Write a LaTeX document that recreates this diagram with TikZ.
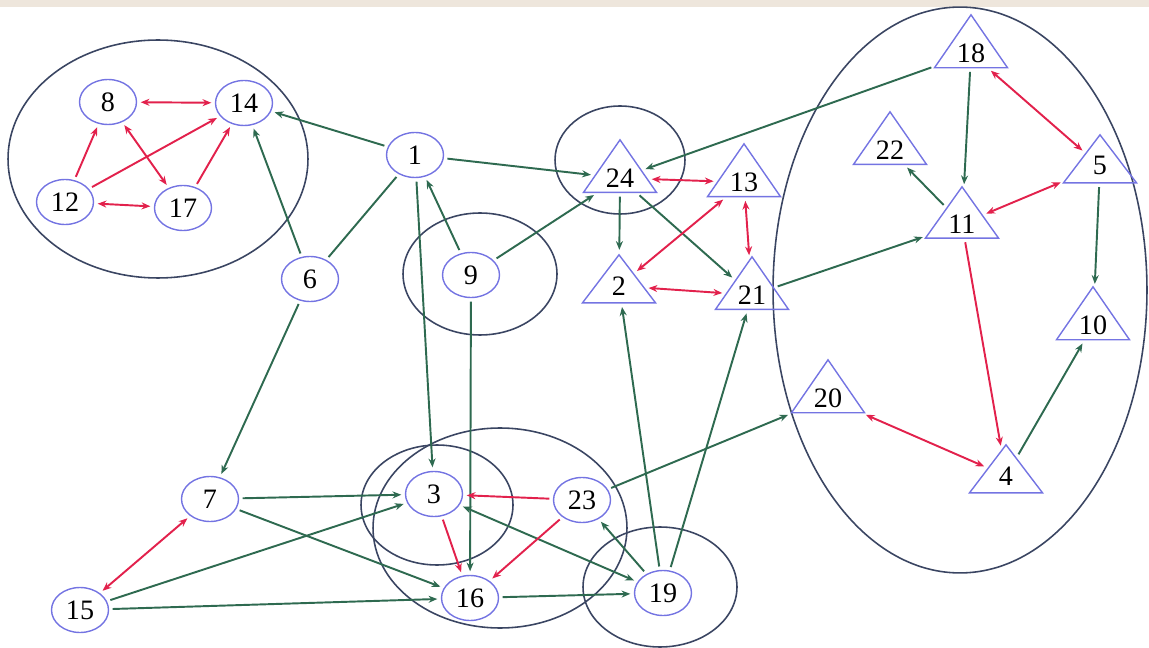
\documentclass[tikz,border=0pt]{standalone}
\usepackage{fontspec}
\setmainfont{Liberation Serif}
\usetikzlibrary{shapes.geometric,arrows.meta}
\definecolor{nblue}{HTML}{7474E2}
\definecolor{egreen}{HTML}{2E6A50}
\definecolor{ered}{HTML}{E2214C}
\definecolor{grpline}{HTML}{3A4562}
\definecolor{beige}{HTML}{EEE6DC}
\tikzset{
  cn/.style={draw=nblue, ellipse, minimum width=1.14cm, minimum height=0.9cm, inner sep=0pt, line width=0.8pt, font=\fontsize{16}{18}\selectfont},
  tn/.style={draw=nblue, isosceles triangle, shape border rotate=90, isosceles triangle stretches, minimum width=1.46cm, minimum height=0.96cm, inner sep=0pt, line width=0.8pt, font=\fontsize{16}{18}\selectfont, anchor=apex},
  grp/.style={draw=grpline, line width=0.9pt},
  ge/.style={draw=egreen, line width=1.1pt, shorten >=2pt, shorten <=2pt, -{Stealth[length=5pt,width=4pt]}},
  gp/.style={draw=egreen, line width=1.1pt, shorten >=2pt, shorten <=2pt},
  gb/.style={draw=egreen, line width=1.1pt, shorten >=2pt, shorten <=2pt, {Stealth[length=5pt,width=4pt]}-{Stealth[length=5pt,width=4pt]}},
  re/.style={draw=ered, line width=1.1pt, shorten >=2pt, shorten <=2pt, -{Stealth[length=5pt,width=4pt]}},
  rb/.style={draw=ered, line width=1.1pt, shorten >=2pt, shorten <=2pt, {Stealth[length=5pt,width=4pt]}-{Stealth[length=5pt,width=4pt]}},
}
\begin{document}
\begin{tikzpicture}[x=0.02cm,y=-0.02cm]
\useasboundingbox (0,0) rectangle (1149,648);
\fill[beige] (0,0) rectangle (1149,7);
% group ellipses
\draw[grp] (158,159) ellipse [x radius=3cm, y radius=2.38cm];
\draw[grp] (620,160) ellipse [x radius=1.3cm, y radius=1.08cm];
\draw[grp] (480,274) ellipse [x radius=1.54cm, y radius=1.22cm];
\draw[grp] (437,505) ellipse [x radius=1.52cm, y radius=1.2cm];
\draw[grp] (500,528) ellipse [x radius=2.54cm, y radius=2cm];
\draw[grp] (660,587) ellipse [x radius=1.54cm, y radius=1.2cm];
\draw[grp] (960,290) ellipse [x radius=3.74cm, y radius=5.66cm];
% circle nodes
\node[cn] (n8) at (108,102) {8};
\node[cn] (n14) at (244,103) {14};
\node[cn] (n12) at (65,202) {12};
\node[cn] (n17) at (183,208) {17};
\node[cn] (n1) at (415,155) {1};
\node[cn] (n6) at (310,279) {6};
\node[cn] (n9) at (471,275) {9};
\node[cn] (n7) at (210,499) {7};
\node[cn] (n15) at (80,610) {15};
\node[cn] (n3) at (434,494) {3};
\node[cn] (n23) at (582,500) {23};
\node[cn] (n16) at (470,598) {16};
\node[cn] (n19) at (663,593) {19};
% triangle nodes
\node[tn] (n24) at (620,138) {24};
\node[tn] (n13) at (744,142) {13};
\node[tn] (n2) at (619,253) {2};
\node[tn] (n21) at (752,255) {21};
\node[tn] (n18) at (971,13) {18};
\node[tn] (n22) at (890,110) {22};
\node[tn] (n5) at (1100,133) {5};
\node[tn] (n11) at (962,185) {11};
\node[tn] (n10) at (1093,285) {10};
\node[tn] (n20) at (828,358) {20};
\node[tn] (n4) at (1006,443) {4};
% green edges
\draw[ge] (n1) -- (n14);
\draw[ge] (n1) -- (n24);
\draw[gp] (n6) -- (n1);
\draw[ge] (n6) -- (n14);
\draw[ge] (n6) -- (n7);
\draw[ge] (n9) -- (n1);
\draw[ge] (n1) -- (n3);
\draw[ge] (n9) -- (n16);
\draw[ge] (n9) -- (n24);
\draw[ge] (n24) -- (n2);
\draw[ge] (n24) -- (n21);
\draw[ge] (n18) -- (n24);
\draw[ge] (n21) -- (n11);
\draw[ge] (n18) -- (n11);
\draw[ge] (n11) -- (n22);
\draw[ge] (n5) -- (n10);
\draw[ge] (n4) -- (n10);
\draw[ge] (n19) -- (n2);
\draw[ge] (n19) -- (n21);
\draw[ge] (n23) -- (n20);
\draw[ge] (n7) -- (n3);
\draw[ge] (n7) -- (n16);
\draw[ge] (n15) -- (n3);
\draw[ge] (n15) -- (n16);
\draw[gb] (n19) -- (n3);
\draw[ge] (n19) -- (n23);
\draw[ge] (n16) -- (n19);
% red edges
\draw[rb] (n8) -- (n14);
\draw[re] (n12) -- (n8);
\draw[re] (n12) -- (n14);
\draw[rb] (n8) -- (n17);
\draw[re] (n17) -- (n14);
\draw[rb] (n12) -- (n17);
\draw[rb] (n24) -- (n13);
\draw[rb] (n13) -- (n2);
\draw[rb] (n13) -- (n21);
\draw[rb] (n2) -- (n21);
\draw[rb] (n5) -- (n18);
\draw[rb] (n5) -- (n11);
\draw[re] (n11) -- (n4);
\draw[rb] (n4) -- (n20);
\draw[rb] (n15) -- (n7);
\draw[re] (n23) -- (n3);
\draw[re] (n3) -- (n16);
\draw[re] (n23) -- (n16);
\end{tikzpicture}
\end{document}
